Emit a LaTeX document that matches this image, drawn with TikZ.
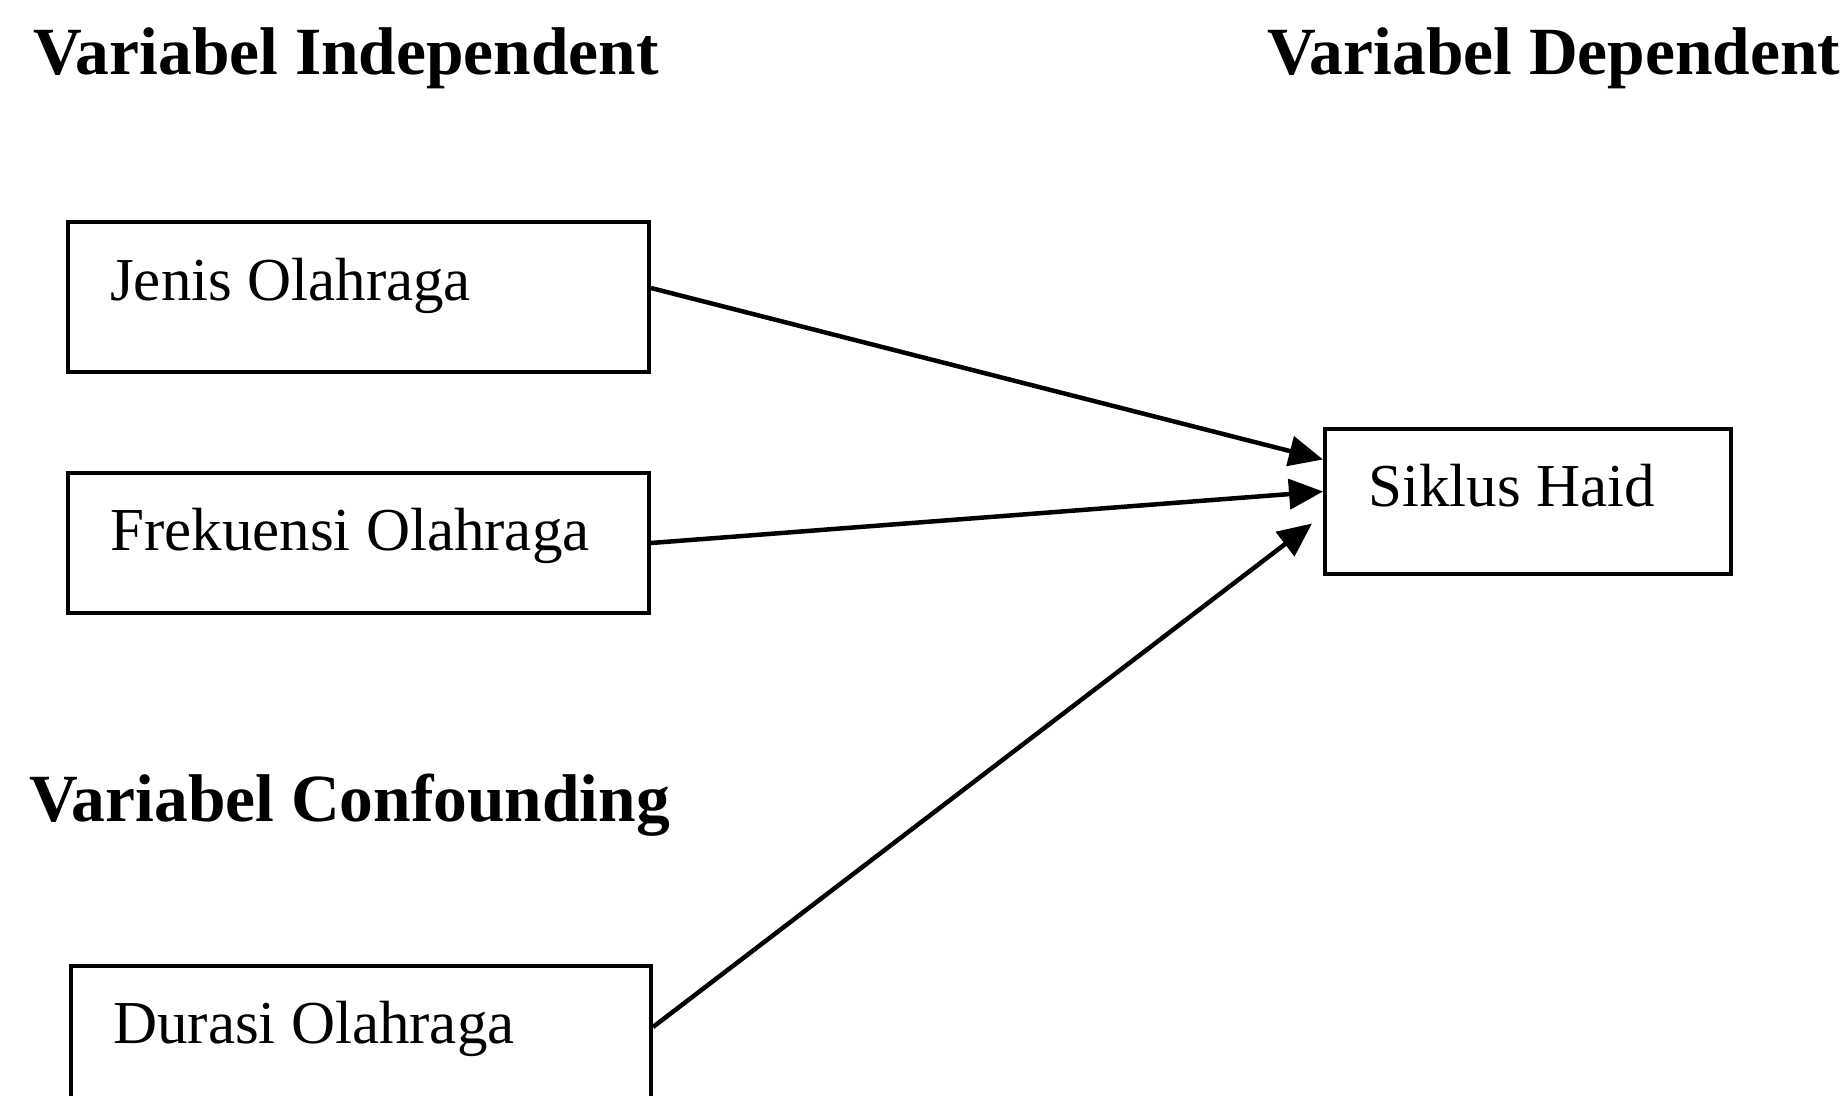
\documentclass[tikz,border=0pt]{standalone}
\usepackage{fontspec}
\setmainfont{Liberation Serif}
\usetikzlibrary{arrows.meta}
\begin{document}
\begin{tikzpicture}[x=1pt,y=-1pt,
  box/.style={draw=black, line width=4pt, fill=none, inner sep=0pt, anchor=north west, rectangle},
  ttl/.style={font=\fontsize{67.5}{80}\selectfont\bfseries, anchor=base west, inner sep=0pt},
  lbl/.style={font=\fontsize{61}{73}\selectfont, anchor=base west, inner sep=0pt},
  conn/.style={line width=4.5pt, -{Triangle[length=34pt,width=30pt]}}]
\useasboundingbox (0,0) rectangle (1847,1095);
\clip (0,0) rectangle (1847,1095);
\fill[white] (0,0) rectangle (1847,1095);
% titles
\node[ttl] (tind) at (33,74) {Variabel Independent};
\node[ttl] (tdep) at (1267,74) {Variabel Dependent};
\node[ttl] (tcon) at (29,821) {Variabel Confounding};
% boxes
\node[box, minimum width=581pt, minimum height=150pt] (jenis) at (66,220) {};
\node[box, minimum width=581pt, minimum height=140pt] (frek) at (66,471) {};
\node[box, minimum width=406pt, minimum height=145pt] (siklus) at (1323,427) {};
\node[box, minimum width=580pt, minimum height=150pt] (durasi) at (69,964) {};
% labels
\node[lbl] (ljenis) at (110,300) {Jenis Olahraga};
\node[lbl] (lfrek) at (110,550) {Frekuensi Olahraga};
\node[lbl] (lsiklus) at (1368,506) {Siklus Haid};
\node[lbl] (ldurasi) at (113,1043) {Durasi Olahraga};
% connectors
\draw[conn] ([yshift=9pt]jenis.east) -- ([yshift=42pt]siklus.west);
\draw[conn] (frek.east) -- ([yshift=10pt]siklus.west);
\draw[conn] ([yshift=14pt]durasi.east) -- ([xshift=-11pt,yshift=-22pt]siklus.west);
\end{tikzpicture}
\end{document}
